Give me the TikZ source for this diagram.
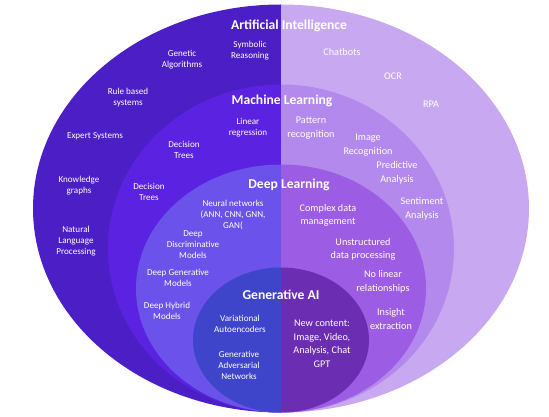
\documentclass[tikz,border=0pt]{standalone}
\usepackage{fontspec}
\setmainfont{Carlito}
\definecolor{AIL}{HTML}{4C1FC6}
\definecolor{MLL}{HTML}{5B22E2}
\definecolor{DLL}{HTML}{6A52EA}
\definecolor{GAL}{HTML}{3E45CB}
\definecolor{AIR}{HTML}{C8A9F1}
\definecolor{MLR}{HTML}{B389EE}
\definecolor{DLR}{HTML}{9C5CE3}
\definecolor{GAR}{HTML}{6B2DB1}
\tikzset{
  title/.style={text=white,font=\fontsize{13.6}{15}\selectfont\bfseries,inner sep=0pt},
  ltxt/.style={text=white,font=\fontsize{9.1}{11}\selectfont,align=center,inner sep=0pt},
  rtxt/.style={text=white,font=\fontsize{10.2}{13.5}\selectfont,align=center,inner sep=0pt},
}
\begin{document}
\begin{tikzpicture}[x=1pt,y=-1pt]
\useasboundingbox (0,0) rectangle (549,417);
\begin{scope}
\clip (0,0) rectangle (281,417);
\fill[AIL] (281,208.5) ellipse [x radius=248, y radius=204];
\fill[MLL] (281,248.5) ellipse [x radius=173, y radius=164];
\fill[DLL] (281,288.5) ellipse [x radius=145, y radius=124];
\fill[GAL] (281,340) ellipse [x radius=88, y radius=72.5];
\end{scope}
\begin{scope}
\clip (281,0) rectangle (549,417);
\fill[AIR] (281,208.5) ellipse [x radius=248, y radius=204];
\fill[MLR] (281,248.5) ellipse [x radius=173, y radius=164];
\fill[DLR] (281,288.5) ellipse [x radius=145, y radius=124];
\fill[GAR] (281,340) ellipse [x radius=88, y radius=72.5];
\end{scope}
% titles
\node[title] (ai) at (289,26) {Artificial Intelligence};
\node[title] (ml) at (282,101) {Machine Learning};
\node[title] (dl) at (289,185) {Deep Learning};
\node[title] (ga) at (281,295) {Generative AI};
% AI left
\node[ltxt] (sym) at (250,51) {Symbolic\\Reasoning};
\node[ltxt] (gen) at (182,59.5) {Genetic\\Algorithms};
\node[ltxt] (rule) at (128,97.5) {Rule based\\systems};
\node[ltxt] (exp) at (95,136) {Expert Systems};
\node[ltxt] (kg) at (79,186) {Knowledge\\graphs};
\node[ltxt] (nlp) at (76,241.5) {Natural\\Language\\Processing};
% ML left
\node[ltxt] (lin) at (248,128) {Linear\\regression};
\node[ltxt] (dt1) at (184,149.5) {Decision\\Trees};
\node[ltxt] (dt2) at (149,191.5) {Decision\\Trees};
% DL left
\node[ltxt] (nn) at (233,215) {Neural networks\\(ANN, CNN, GNN,\\GAN(};
\node[ltxt] (ddm) at (193,244.5) {Deep\\Discriminative\\Models};
\node[ltxt] (dgm) at (178,277.5) {Deep Generative\\Models};
\node[ltxt] (dhm) at (167,310.5) {Deep Hybrid\\Models};
% GenAI left
\node[ltxt] (vae) at (240,323.5) {Variational\\Autoencoders};
\node[ltxt] (gan) at (239,365.5) {Generative\\Adversarial\\Networks};
% AI right
\node[rtxt] (chat) at (342,52) {Chatbots};
\node[rtxt] (ocr) at (393,76) {OCR};
\node[rtxt] (rpa) at (431,104) {RPA};
% ML right
\node[rtxt] (pat) at (311,128) {Pattern\\recognition};
\node[rtxt] (img) at (368,145) {Image\\Recognition};
\node[rtxt] (pred) at (397,173) {Predictive\\Analysis};
\node[rtxt] (sent) at (422,209) {Sentiment\\Analysis};
% DL right
\node[rtxt] (cdm) at (328,215.5) {Complex data\\management};
\node[rtxt] (udp) at (363,249.5) {Unstructured\\data processing};
\node[rtxt] (nlr) at (383,282) {No linear\\relationships};
\node[rtxt] (ins) at (391,319) {Insight\\extraction};
% GenAI right
\node[rtxt] (new) at (322,344) {New content:\\Image, Video,\\Analysis, Chat\\GPT};
\end{tikzpicture}
\end{document}
